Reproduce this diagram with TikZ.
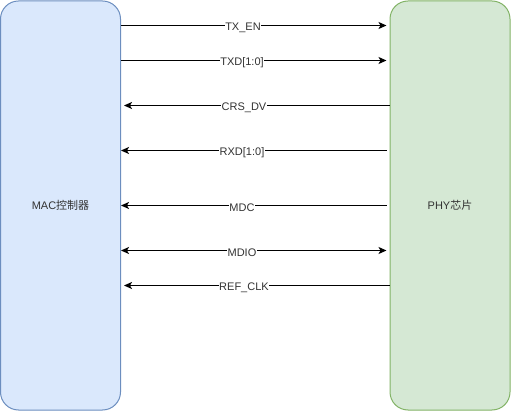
\documentclass[tikz,border=0pt]{standalone}
\usepackage{fontspec}
\setmainfont{Liberation Sans}
\newfontfamily\cjk{Noto Sans CJK SC}
\usetikzlibrary{arrows.meta}
\definecolor{macfill}{HTML}{DAE8FC}
\definecolor{macdraw}{HTML}{6C8EBF}
\definecolor{phyfill}{HTML}{D5E8D4}
\definecolor{phydraw}{HTML}{82B366}
\definecolor{txt}{HTML}{333333}
\tikzset{
  blockbox/.style={rectangle, rounded corners=18pt, line width=1pt, inner sep=0pt,
    minimum width=120pt, minimum height=409pt, font=\fontsize{11pt}{13pt}\selectfont, text=txt},
  sig/.style={line width=1pt, -{Stealth[length=8pt,width=7pt,inset=2pt]}},
  sigboth/.style={line width=1pt, {Stealth[length=8pt,width=7pt,inset=2pt]}-{Stealth[length=8pt,width=7pt,inset=2pt]}},
  lbl/.style={fill=white, inner xsep=0.5pt, inner ysep=0.5pt, text=txt, font=\fontsize{11pt}{13pt}\selectfont},
}
\begin{document}
\begin{tikzpicture}[x=1pt,y=-1pt]
\useasboundingbox (0,0) rectangle (511,411);
\node[blockbox, fill=macfill, draw=macdraw] (mac) at (60.5,205.5) {MAC{\cjk 控制器}};
\node[blockbox, fill=phyfill, draw=phydraw] (phy) at (450,205.5) {PHY{\cjk 芯片}};
\coordinate (r1) at (0,25.5);
\coordinate (r2) at (0,60.5);
\coordinate (r3) at (0,105.5);
\coordinate (r4) at (0,150.5);
\coordinate (r5) at (0,205.5);
\coordinate (r6) at (0,250.5);
\coordinate (r7) at (0,285.5);
\draw[sig, shorten >=3pt] (mac.east |- r1) -- (phy.west |- r1);
\draw[sig, shorten >=3pt] (mac.east |- r2) -- (phy.west |- r2);
\draw[sig, shorten >=3pt] (phy.west |- r3) -- (mac.east |- r3);
\draw[sig, shorten <=3pt] (phy.west |- r4) -- (mac.east |- r4);
\draw[sig, shorten <=3pt] (phy.west |- r5) -- (mac.east |- r5);
\draw[sigboth, shorten >=3pt] (mac.east |- r6) -- (phy.west |- r6);
\draw[sig, shorten >=3pt] (phy.west |- r7) -- (mac.east |- r7);
\node[lbl] (l1) at (243,28) {TX\_EN};
\node[lbl] (l2) at (242,63) {TXD[1:0]};
\node[lbl] (l3) at (244,108) {CRS\_DV};
\node[lbl] (l4) at (242,153) {RXD[1:0]};
\node[lbl] (l5) at (242,207.5) {MDC};
\node[lbl] (l6) at (242,252.5) {MDIO};
\node[lbl] (l7) at (244,288) {REF\_CLK};
\end{tikzpicture}
\end{document}
